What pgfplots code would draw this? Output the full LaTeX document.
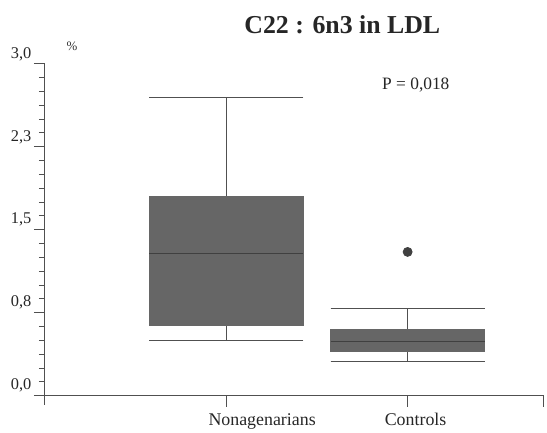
\documentclass[border=0pt]{standalone}
\usepackage{pgfplots}
\pgfplotsset{compat=1.18}
\usepgfplotslibrary{statistics}
\usepackage{fontspec}
\setmainfont{Liberation Serif}
\definecolor{boxfill}{HTML}{666666}
\definecolor{axgray}{HTML}{505050}
\begin{document}
\begin{tikzpicture}
\begin{axis}[
  x=182bp, y=111bp,
  xmin=-0.05, xmax=2.75,
  ymin=-0.08, ymax=3.0,
  axis lines=middle,
  hide obscured y ticks=false,
  hide obscured x ticks=false,
  axis line style={-, axgray, line width=1.2bp},
  clip=false,
  xtick={1,2,2.75},
  xticklabels={\hspace*{72bp}Nonagenarians,\hspace*{16bp}Controls,{}},
  ytick={0,0.75,1.5,2.25,3.0},
  yticklabels={{0,0},{0,8},{1,5},{2,3},{3,0}},
  minor y tick num=5,
  tick align=outside,
  major tick length=11bp,
  minor tick length=6bp,
  tick style={axgray, line width=1bp},
  tick label style={font=\fontsize{16.5}{18}\selectfont, text=black!85},
  yticklabel style={yshift=10bp, xshift=1bp},
  xticklabel style={yshift=-3bp, font=\fontsize{18}{20}\selectfont},
  every tick/.style={axgray, line width=1bp},
  boxplot/draw direction=y,
]
\addplot+[boxplot prepared={
    draw position=1, median=1.29, upper quartile=1.80, lower quartile=0.64,
    upper whisker=2.70, lower whisker=0.50, box extend=0.85, whisker extend=0.85},
  fill=boxfill, draw=black!60, line width=0.8bp,
  boxplot/every median/.style={draw=black!75, line width=1bp},
  boxplot/every whisker/.style={draw=axgray, line width=1bp},
  mark=none] coordinates {};
\addplot+[boxplot prepared={
    draw position=2, median=0.49, upper quartile=0.60, lower quartile=0.40,
    upper whisker=0.79, lower whisker=0.31, box extend=0.85, whisker extend=0.85},
  fill=boxfill, draw=black!60, line width=0.8bp,
  boxplot/every median/.style={draw=black!75, line width=1bp},
  boxplot/every whisker/.style={draw=axgray, line width=1bp},
  mark=*, mark size=4.5bp, mark options={fill=black!75, draw=black!75}]
  coordinates {(0,1.30)};
\node[font=\fontsize{26}{30}\selectfont\bfseries, text=black!85] at (axis cs:1.64,3.35) {C22 : 6n3 in LDL};
\node[font=\fontsize{13}{15}\selectfont, text=black!80] at (axis cs:0.15,3.16) {\%};
\node[font=\fontsize{17.5}{20}\selectfont, text=black!85] at (axis cs:2.045,2.81) {P = 0,018};
\path (axis cs:-0.247,-0.279) rectangle (axis cs:2.758,3.577);
\end{axis}
\end{tikzpicture}
\end{document}
